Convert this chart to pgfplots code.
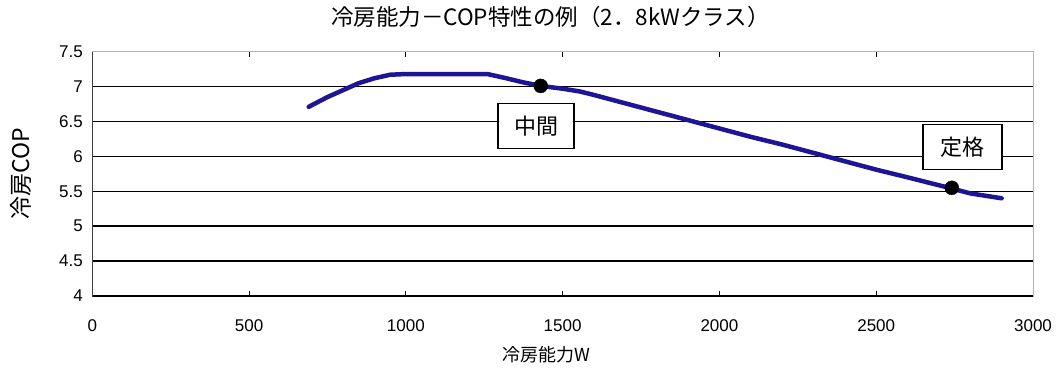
\documentclass[border=0pt]{standalone}
\usepackage{fontspec}
\setmainfont{Noto Sans CJK JP}
\newfontfamily\numfont{Liberation Sans}
\usepackage{pgfplots}
\pgfplotsset{compat=1.18}
\definecolor{curve}{RGB}{30,20,150}
\begin{document}
\begin{tikzpicture}
\begin{axis}[
  scale only axis, width=940.7pt, height=244.3pt,
  xmin=0, xmax=3000, ymin=4, ymax=7.5,
  xtick={0,500,1000,1500,2000,2500,3000},
  ytick={4,4.5,5,5.5,6,6.5,7,7.5},
  ymajorgrids,
  major grid style={black, line width=1.5pt},
  axis line style={gray!60, line width=1pt},
  tick align=inside,
  xtick style={black, line width=1pt},
  major tick length=5pt,
  ytick style={draw=none},
  /pgf/number format/1000 sep={},
  /pgf/number format/assume math mode=true,
  tick label style={font=\fontsize{17}{20}\selectfont\numfont},
  xticklabel style={yshift=-20pt},
  yticklabel style={xshift=-6pt},
  title={冷房能力－COP特性の例（2．8kWクラス）},
  title style={font=\fontsize{22.5}{25}\selectfont, anchor=center, at={(0.487,1)}, yshift=29pt},
  xlabel={冷房能力W},
  xlabel style={font=\fontsize{18}{21}\selectfont, anchor=center, at={(0.483,0)}, yshift=-59pt},
  ylabel={冷房COP},
  ylabel style={font=\fontsize{23}{26}\selectfont, anchor=center, at={([xshift=-71pt]axis description cs:0,0.5)}},
]
\addplot[curve, line width=4.5pt, line join=round, line cap=round] coordinates {
  (690,6.71) (750,6.85) (800,6.95) (850,7.05) (900,7.12) (950,7.17)
  (1000,7.18) (1100,7.18) (1200,7.18) (1260,7.18) (1320,7.12) (1375,7.06)
  (1430,7.01) (1500,6.97) (1555,6.93) (1600,6.88) (1700,6.76) (1800,6.64)
  (1900,6.52) (2000,6.40) (2100,6.28) (2200,6.17) (2300,6.05) (2400,5.93)
  (2500,5.81) (2600,5.70) (2741,5.54) (2800,5.47) (2900,5.40)
};
\addplot[only marks, mark=*, mark size=7pt, black] coordinates {(1430,7.01) (2741,5.55)};
\draw[black, line width=1.5pt] (rel axis cs:0,1) -- (rel axis cs:0,0) -- (rel axis cs:1,0);
\node[draw=black, line width=1.2pt, fill=white, minimum width=76pt, minimum height=45pt, inner sep=0pt, font=\fontsize{22}{24}\selectfont] at (axis cs:1415,6.43) {中間};
\node[draw=black, line width=1.2pt, fill=white, minimum width=79pt, minimum height=45pt, inner sep=0pt, font=\fontsize{22}{24}\selectfont] at (axis cs:2775,6.13) {定格};
\end{axis}
\pgfresetboundingbox
\path (-92.3pt,-82pt) rectangle (964.7pt,296pt);
\end{tikzpicture}
\end{document}
